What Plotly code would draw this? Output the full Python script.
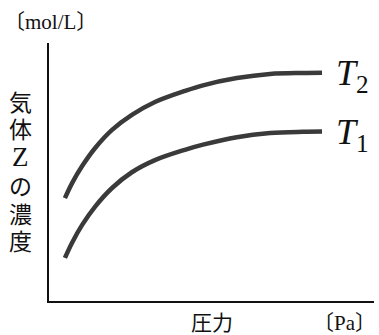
import plotly.graph_objects as go

# Data (arbitrary units: pressure 0-100, concentration 0-100)
pressure = [4.9, 7.1, 10.2, 14.2, 19.4, 25.5, 32.6, 41.8, 47.4, 57.8, 68.0, 78.2, 84.0]
conc_T2 = [39.9, 45.7, 52.3, 59.3, 66.3, 72.1, 77.1, 81.4, 83.6, 86.4, 88.0, 88.4, 88.5]
conc_T1 = [16.7, 22.6, 29.5, 36.6, 43.8, 49.9, 54.6, 58.6, 60.6, 63.5, 65.1, 65.6, 65.7]
series_labels = ["<i>T</i><sub>2</sub>", "<i>T</i><sub>1</sub>"]
y_label_chars = ["気", "体", "Z", "の", "濃", "度"]
y_unit = "〔mol/L〕"
x_label = "圧力"
x_unit = "〔Pa〕"

W, H = 379, 335
L, R, T, B = 49, 5, 43, 34
PW, PH = W - L - R, H - T - B

def px(x):
    return (x - L) / PW

def py(y):
    return (H - B - y) / PH

line_color = "#3a3a3a"
serif = "'Liberation Serif', 'DejaVu Serif', 'Noto Sans CJK JP', serif"

fig = go.Figure()
for ys in [conc_T2, conc_T1]:
    fig.add_trace(go.Scatter(x=pressure, y=ys, mode="lines",
                             line=dict(color=line_color, width=4.5, shape="spline", smoothing=1.0),
                             showlegend=False, hoverinfo="skip"))

ann = []
for lab, ys in [(series_labels[0], conc_T2), (series_labels[1], conc_T1)]:
    ann.append(dict(x=pressure[-1], y=ys[-1], xref="x", yref="y", text=lab, showarrow=False,
                    xanchor="left", yanchor="middle", xshift=12, yshift=-3,
                    font=dict(family=serif, size=36, color="#111")))

ann.append(dict(x=px(50), y=py(22), xref="paper", yref="paper", text=y_unit, showarrow=False,
                xanchor="center", yanchor="middle", font=dict(family=serif, size=21, color="#111")))
ycenters = [103, 130, 157, 187, 215, 242]
for ch, yc in zip(y_label_chars, ycenters):
    size = 27 if ch == "Z" else 23
    ann.append(dict(x=px(20), y=py(yc), xref="paper", yref="paper", text=ch, showarrow=False,
                    xanchor="center", yanchor="middle", font=dict(family=serif, size=size, color="#111")))
ann.append(dict(x=px(212), y=py(323), xref="paper", yref="paper", text=x_label, showarrow=False,
                xanchor="center", yanchor="middle", font=dict(family=serif, size=21, color="#111")))
ann.append(dict(x=px(378), y=py(323), xref="paper", yref="paper", text=x_unit, showarrow=False,
                xanchor="right", yanchor="middle", font=dict(family=serif, size=21, color="#111")))

fig.update_layout(
    width=W, height=H, margin=dict(l=L, r=R, t=T, b=B),
    paper_bgcolor="white", plot_bgcolor="white",
    xaxis=dict(range=[0, 100], showline=True, linecolor="#111", linewidth=2, mirror=False,
               showgrid=False, zeroline=False, showticklabels=False, ticks=""),
    yaxis=dict(range=[0, 100], showline=True, linecolor="#111", linewidth=2, mirror=False,
               showgrid=False, zeroline=False, showticklabels=False, ticks=""),
    annotations=ann,
)
fig.write_html("out.html", config={"displayModeBar": False},
               post_script="document.body.style.margin='0';")
